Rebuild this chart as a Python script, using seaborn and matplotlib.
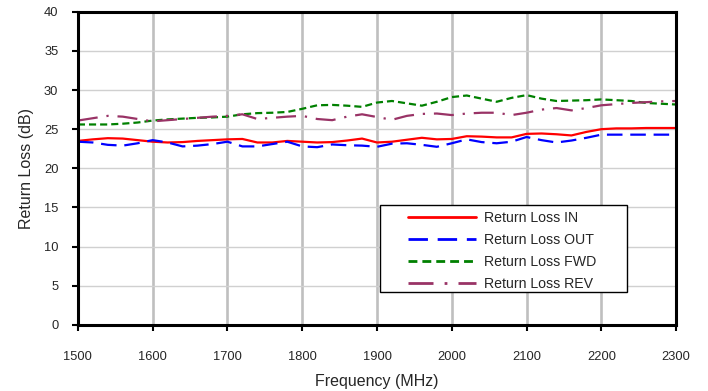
import numpy as np
import pandas as pd
import matplotlib
matplotlib.use("Agg")
import matplotlib.pyplot as plt
from matplotlib.patches import Rectangle
import seaborn as sns

freq = list(range(1500, 2301, 20))

rl_in = [23.5, 23.7, 23.85, 23.8, 23.6, 23.4, 23.3, 23.35, 23.5, 23.6,
         23.7, 23.75, 23.3, 23.3, 23.5, 23.4, 23.3, 23.35, 23.55, 23.8,
         23.3, 23.4, 23.65, 23.9, 23.7, 23.75, 24.1, 24.05, 23.95, 23.95,
         24.4, 24.45, 24.35, 24.2, 24.65, 25.0, 25.1, 25.1, 25.15, 25.15, 25.15]

rl_out = [23.4, 23.3, 23.0, 22.9, 23.2, 23.6, 23.3, 22.8, 22.9, 23.1,
          23.4, 22.8, 22.8, 23.1, 23.4, 22.8, 22.7, 23.05, 22.95, 22.9,
          22.75, 23.15, 23.2, 23.0, 22.75, 23.2, 23.7, 23.35, 23.2, 23.4,
          24.0, 23.6, 23.3, 23.55, 23.9, 24.3, 24.3, 24.3, 24.3, 24.3, 24.3]

rl_fwd = [25.6, 25.6, 25.6, 25.7, 25.85, 26.1, 26.25, 26.35, 26.45, 26.5,
          26.6, 26.9, 27.05, 27.1, 27.2, 27.6, 28.05, 28.1, 28.0, 27.85,
          28.4, 28.6, 28.3, 28.0, 28.5, 29.1, 29.3, 28.9, 28.5, 29.0,
          29.35, 28.9, 28.6, 28.65, 28.7, 28.8, 28.7, 28.6, 28.35, 28.25, 28.15]

rl_rev = [26.1, 26.4, 26.7, 26.6, 26.3, 26.0, 26.15, 26.3, 26.45, 26.6,
          26.7, 26.9, 26.3, 26.45, 26.6, 26.7, 26.3, 26.15, 26.6, 26.9,
          26.55, 26.2, 26.7, 26.95, 27.0, 26.8, 27.0, 27.1, 27.1, 26.8,
          27.1, 27.5, 27.7, 27.4, 27.7, 28.05, 28.2, 28.35, 28.45, 28.55, 28.6]

labels = ["Return Loss IN", "Return Loss OUT", "Return Loss FWD", "Return Loss REV"]
colors = ["#FF0000", "#0000FF", "#008000", "#993366"]
styles = ["-", (0, (7, 3.5)), (0, (3.2, 1.8)), (0, (9, 4, 1, 4))]

x_ticks = list(range(1500, 2301, 100))
y_ticks = list(range(0, 41, 5))

sns.set_style("white")
plt.rcParams["font.family"] = ["Liberation Sans", "DejaVu Sans"]

fig = plt.figure(figsize=(7.08, 3.91), dpi=100)
ax = fig.add_axes([0.110, 0.169, 0.845, 0.801])

for series, lab, col, ls in zip([rl_in, rl_out, rl_fwd, rl_rev], labels, colors, styles):
    sns.lineplot(x=freq, y=series, ax=ax, color=col, linestyle=ls,
                 linewidth=1.6, label=lab)

ax.set_xlim(1500, 2300)
ax.set_ylim(0, 40)
ax.set_xticks(x_ticks)
ax.set_yticks(y_ticks)
ax.set_xticklabels([str(v) for v in x_ticks], fontsize=9.3)
ax.set_yticklabels([str(v) for v in y_ticks], fontsize=9.3)

ax.xaxis.grid(True, color="#BFBFBF", linewidth=1.9)
ax.yaxis.grid(True, color="#D0D0D0", linewidth=1.0)
ax.set_axisbelow(True)

for side in ["left", "bottom", "right", "top"]:
    ax.spines[side].set_visible(True)
    ax.spines[side].set_color("black")
    ax.spines[side].set_linewidth(2.2)

ax.tick_params(axis="both", which="major", direction="out", length=4,
               width=1.5, color="black", left=True, bottom=True)
ax.tick_params(axis="y", pad=10)
ax.tick_params(axis="x", pad=15)

ax.set_xlabel("Frequency (MHz)", fontsize=11.5, labelpad=8)
ax.set_ylabel("Return Loss (dB)", fontsize=11.5, labelpad=7)

# legend frame box
frame = Rectangle((0.505, 0.1053), 0.413, 0.2777, transform=ax.transAxes,
                  facecolor="white", edgecolor="black", linewidth=1.0,
                  zorder=4)
ax.add_patch(frame)

leg = ax.legend(loc="upper left", bbox_to_anchor=(0.5518, 0.3625),
                fontsize=10.2, frameon=False, handlelength=4.8,
                handletextpad=0.6, borderpad=0.0, labelspacing=0.56,
                borderaxespad=0)
for h in leg.get_lines():
    h.set_linewidth(2.0)
leg.set_zorder(5)

fig.savefig("out.png", dpi=100)
